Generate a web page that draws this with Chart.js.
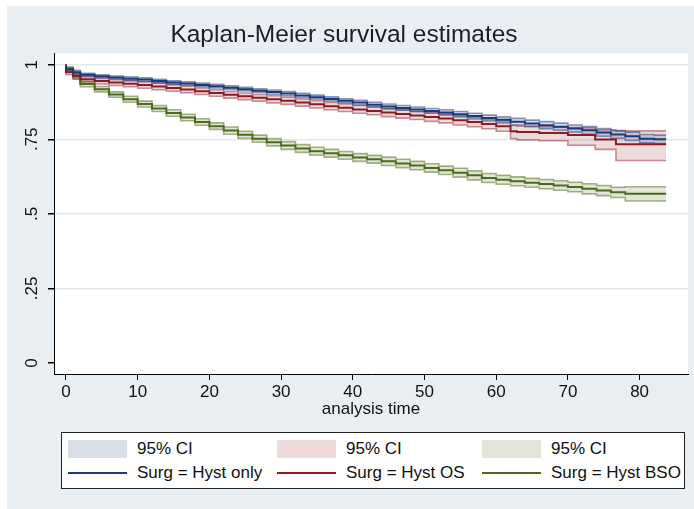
<!DOCTYPE html>
<html>
<head>
<meta charset="utf-8">
<script src="https://cdn.jsdelivr.net/npm/chart.js@4"></script>
<style>
  html, body { margin: 0; padding: 0; background: #fff; }
  #wrap { position: relative; width: 694px; height: 509px; overflow: hidden; }
  #bg { position: absolute; left: 7px; top: 6px; right: 0; bottom: 0; background: #e8eef1; }
  canvas { position: absolute; left: 0; top: 0; }
  #legend { position: absolute; left: 61px; top: 432px; width: 622px; height: 55px; border: 1px solid #222; background: #fff;
            font-family: "Liberation Sans", Arial, sans-serif; font-size: 17px; color: #111; }
  .item { position: absolute; display: flex; align-items: center; height: 20px; white-space: nowrap; }
  .sw { width: 59px; height: 18px; margin-right: 10px; }
  .ln { width: 59px; height: 2px; margin-right: 10px; }
</style>
</head>
<body>
<div id="wrap">
  <div id="bg"></div>
  <canvas id="c" width="694" height="509"></canvas>
  <div id="legend"></div>
</div>
<script>
const chartTitle = 'Kaplan-Meier survival estimates';
const xTitle = 'analysis time';
const ciLabel = '95% CI';
const seriesLabels = ['Surg = Hyst only', 'Surg = Hyst OS', 'Surg = Hyst BSO'];
const xTicks = [0, 10, 20, 30, 40, 50, 60, 70, 80];
const yTicks = [0, 0.25, 0.5, 0.75, 1];
const yTickLabels = ['0', '.25', '.5', '.75', '1'];

// analysis time points (months)
const timesA = [0, 1, 2, 4, 6, 8, 10, 12, 14, 16, 18, 20, 22, 24, 26, 28, 30, 32, 34, 36, 38, 40,
  42, 44, 46, 48, 50, 52, 54, 56, 58, 60, 62, 64, 66, 68, 70, 72, 74, 76, 78, 80, 82, 83.7];
const timesOS = [0, 1, 2, 4, 6, 8, 10, 12, 14, 16, 18, 20, 22, 24, 26, 28, 30, 32, 34, 36, 38, 40,
  42, 44, 46, 48, 50, 52, 54, 56, 58, 60, 62, 62.9, 66, 70, 73.8, 76.7, 80, 83.7];

// Hyst only
const hystOnly = [1, 0.985, 0.975, 0.966, 0.961, 0.957, 0.953, 0.95, 0.945, 0.94, 0.937, 0.932, 0.928, 0.923,
  0.918, 0.913, 0.908, 0.903, 0.897, 0.891, 0.885, 0.879, 0.873, 0.866, 0.86, 0.855, 0.85, 0.845, 0.84, 0.834,
  0.828, 0.821, 0.815, 0.809, 0.803, 0.797, 0.792, 0.786, 0.78, 0.773, 0.766, 0.76, 0.752, 0.75];
const hystOnlyLo = [1, 0.979, 0.969, 0.961, 0.956, 0.952, 0.947, 0.944, 0.939, 0.934, 0.931, 0.926, 0.922, 0.917,
  0.912, 0.907, 0.901, 0.896, 0.89, 0.884, 0.878, 0.872, 0.865, 0.858, 0.852, 0.847, 0.842, 0.837, 0.831, 0.825,
  0.818, 0.811, 0.805, 0.798, 0.792, 0.785, 0.78, 0.774, 0.767, 0.76, 0.753, 0.746, 0.738, 0.736];
const hystOnlyHi = [1, 0.99, 0.981, 0.971, 0.966, 0.962, 0.959, 0.956, 0.951, 0.946, 0.943, 0.938, 0.934, 0.929,
  0.924, 0.919, 0.915, 0.91, 0.904, 0.898, 0.892, 0.886, 0.881, 0.874, 0.868, 0.863, 0.858, 0.853, 0.849, 0.843,
  0.837, 0.831, 0.825, 0.82, 0.814, 0.809, 0.804, 0.798, 0.793, 0.786, 0.779, 0.774, 0.766, 0.764];

// Hyst OS
const hystOS = [1, 0.975, 0.962, 0.951, 0.945, 0.94, 0.936, 0.932, 0.927, 0.922, 0.917, 0.911, 0.905, 0.899,
  0.894, 0.889, 0.884, 0.879, 0.873, 0.867, 0.861, 0.856, 0.85, 0.845, 0.84, 0.835, 0.83, 0.825, 0.82, 0.814,
  0.808, 0.801, 0.794, 0.777, 0.774, 0.771, 0.764, 0.749, 0.733, 0.733];
const hystOSLo = [1, 0.966, 0.952, 0.942, 0.935, 0.93, 0.926, 0.921, 0.916, 0.911, 0.906, 0.9, 0.894, 0.888,
  0.883, 0.878, 0.872, 0.867, 0.861, 0.855, 0.849, 0.843, 0.837, 0.832, 0.826, 0.821, 0.816, 0.81, 0.805, 0.798,
  0.792, 0.785, 0.777, 0.752, 0.748, 0.745, 0.73, 0.716, 0.679, 0.679];
const hystOSHi = [1, 0.984, 0.972, 0.96, 0.954, 0.95, 0.946, 0.943, 0.938, 0.933, 0.928, 0.922, 0.916, 0.91,
  0.905, 0.9, 0.896, 0.891, 0.885, 0.879, 0.873, 0.868, 0.863, 0.858, 0.853, 0.849, 0.844, 0.84, 0.835, 0.83,
  0.824, 0.817, 0.811, 0.796, 0.794, 0.792, 0.789, 0.782, 0.778, 0.778];

// Hyst BSO
const hystBSO = [1, 0.985, 0.96, 0.935, 0.918, 0.9, 0.884, 0.868, 0.853, 0.838, 0.823, 0.808, 0.794, 0.779,
  0.765, 0.752, 0.74, 0.729, 0.719, 0.71, 0.703, 0.696, 0.689, 0.683, 0.676, 0.669, 0.662, 0.654, 0.646, 0.638,
  0.629, 0.62, 0.614, 0.609, 0.604, 0.6, 0.595, 0.59, 0.584, 0.578, 0.572, 0.567, 0.567, 0.567];
const hystBSOLo = [1, 0.978, 0.952, 0.926, 0.909, 0.891, 0.874, 0.858, 0.843, 0.827, 0.812, 0.797, 0.783, 0.767,
  0.753, 0.74, 0.728, 0.716, 0.706, 0.697, 0.69, 0.683, 0.676, 0.67, 0.662, 0.655, 0.648, 0.64, 0.632, 0.623,
  0.614, 0.605, 0.599, 0.594, 0.589, 0.584, 0.579, 0.574, 0.567, 0.561, 0.555, 0.543, 0.543, 0.543];
const hystBSOHi = [1, 0.992, 0.968, 0.944, 0.927, 0.909, 0.894, 0.878, 0.863, 0.849, 0.834, 0.819, 0.805, 0.791,
  0.777, 0.764, 0.752, 0.742, 0.732, 0.723, 0.716, 0.709, 0.702, 0.696, 0.69, 0.683, 0.676, 0.668, 0.66, 0.653,
  0.644, 0.635, 0.629, 0.624, 0.619, 0.615, 0.611, 0.606, 0.601, 0.595, 0.589, 0.591, 0.591, 0.591];

const lineColors = ['#1b3a7a', '#8c1c24', '#4b6b1b'];
const bandFill = ['rgba(27,58,122,0.17)', 'rgba(140,28,36,0.16)', 'rgba(75,107,27,0.17)'];
const bandEdge = ['rgba(27,58,122,0.5)', 'rgba(140,28,36,0.47)', 'rgba(75,107,27,0.5)'];
const font = 'Liberation Sans, Arial, sans-serif';

const pts = (t, v) => t.map((x, i) => ({ x: x, y: v[i] }));

const groups = [
  { t: timesA, est: hystOnly, lo: hystOnlyLo, hi: hystOnlyHi },
  { t: timesOS, est: hystOS, lo: hystOSLo, hi: hystOSHi },
  { t: timesA, est: hystBSO, lo: hystBSOLo, hi: hystBSOHi }
];

const datasets = [];
groups.forEach((g, i) => {
  datasets.push({ data: pts(g.t, g.lo), borderColor: bandEdge[i], backgroundColor: bandFill[i], fill: '+1',
    borderWidth: 1.6, pointRadius: 0, stepped: 'after', order: 2 });
  datasets.push({ data: pts(g.t, g.hi), borderColor: bandEdge[i], fill: false,
    borderWidth: 1.6, pointRadius: 0, stepped: 'after', order: 2 });
});
groups.forEach((g, i) => {
  datasets.push({ label: seriesLabels[i], data: pts(g.t, g.est), borderColor: lineColors[i], fill: false,
    borderWidth: 2, pointRadius: 0, stepped: 'after', order: 1 });
});

const plotBg = {
  id: 'plotBg',
  beforeDraw(chart) {
    const a = chart.chartArea, ctx = chart.ctx;
    ctx.save();
    ctx.fillStyle = '#fff';
    ctx.fillRect(a.left, a.top, a.right - a.left, a.bottom - a.top);
    ctx.restore();
  }
};

new Chart(document.getElementById('c'), {
  type: 'line',
  data: { datasets: datasets },
  options: {
    responsive: false,
    animation: false,
    layout: { padding: { left: 0, right: 6, top: 0, bottom: 89 } },
    plugins: {
      legend: { display: false },
      tooltip: { enabled: false },
      title: { display: true, text: chartTitle, color: '#1a1f2a',
        font: { family: font, size: 24.5, weight: 'normal' }, padding: { top: 21, bottom: 3 } }
    },
    scales: {
      x: {
        type: 'linear', min: -1.67, max: 86.75,
        afterBuildTicks: s => { s.ticks = xTicks.map(v => ({ value: v })); },
        afterFit: s => { s.height = 46; },
        grid: { drawOnChartArea: false, tickLength: 6, tickColor: '#000' },
        border: { color: '#000', width: 1 },
        ticks: { font: { family: font, size: 17 }, color: '#111', padding: 2, maxRotation: 0, autoSkip: false },
        title: { display: true, text: xTitle, color: '#111', font: { family: font, size: 17 }, padding: 0 }
      },
      y: {
        type: 'linear', min: -0.0368, max: 1.0378,
        afterBuildTicks: s => { s.ticks = yTicks.map(v => ({ value: v })); },
        afterFit: s => { s.width = 54; },
        grid: { color: c => (c.tick && c.tick.value === 0) ? 'rgba(0,0,0,0)' : '#e2eaee',
          lineWidth: 1.5, tickLength: 6, tickColor: '#000' },
        border: { color: '#000', width: 1 },
        ticks: { font: { family: font, size: 17 }, color: '#111', padding: 4, minRotation: 90, maxRotation: 90,
          crossAlign: 'center', autoSkip: false,
          callback: v => yTickLabels[yTicks.indexOf(v)] }
      }
    }
  },
  plugins: [plotBg]
});

// legend: 95% CI swatches on the first row, estimate lines on the second
const legend = document.getElementById('legend');
const colX = [6, 215, 420];
seriesLabels.forEach((lab, i) => {
  const a = document.createElement('div');
  a.className = 'item';
  a.style.left = colX[i] + 'px';
  a.style.top = '6px';
  a.innerHTML = '<span class="sw" style="background:' + bandFill[i] + '"></span><span>' + ciLabel + '</span>';
  legend.appendChild(a);
  const b = document.createElement('div');
  b.className = 'item';
  b.style.left = colX[i] + 'px';
  b.style.top = '30px';
  b.innerHTML = '<span class="ln" style="background:' + lineColors[i] + '"></span><span>' + lab + '</span>';
  legend.appendChild(b);
});
</script>
</body>
</html>
